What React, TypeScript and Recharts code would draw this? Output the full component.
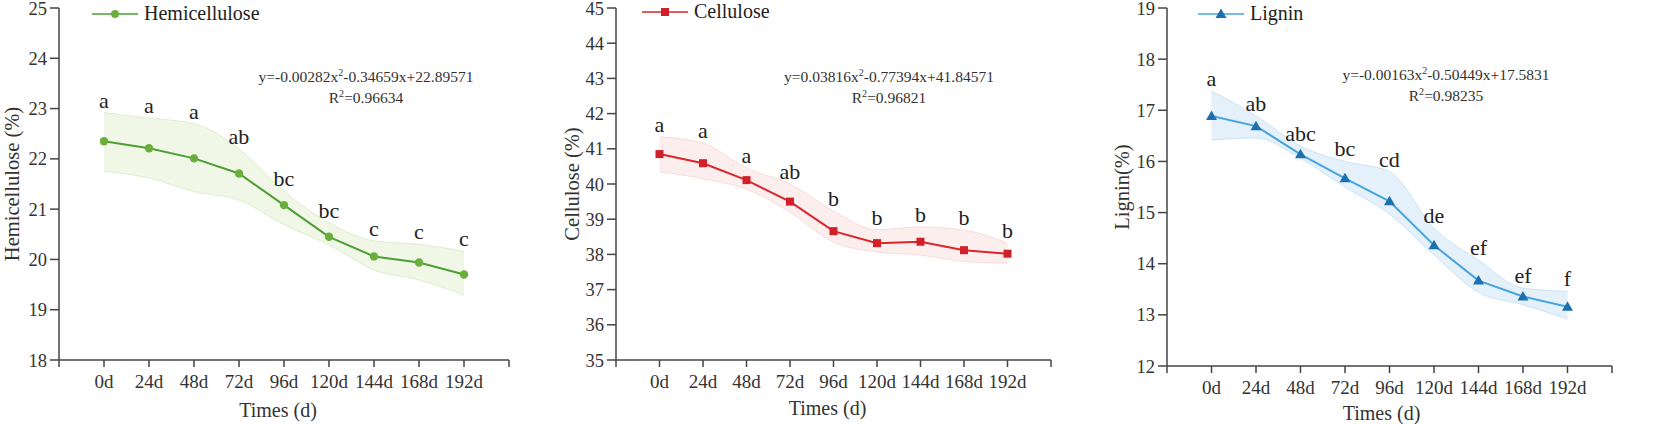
import { ComposedChart, Line, Area, XAxis, YAxis, LabelList } from 'recharts';

const FONT = "'Liberation Serif', 'Times New Roman', serif";

const times = [0, 24, 48, 72, 96, 120, 144, 168, 192];
const xTicks = [-24, 0, 24, 48, 72, 96, 120, 144, 168, 192, 216];

const hemiMean = [22.35, 22.21, 22.01, 21.71, 21.08, 20.45, 20.06, 19.94, 19.7];
const hemiUpper = [22.92, 22.81, 22.7, 22.2, 21.36, 20.73, 20.37, 20.3, 20.16];
const hemiLower = [21.75, 21.62, 21.35, 21.18, 20.69, 20.29, 19.79, 19.59, 19.29];
const hemiSig = ['a', 'a', 'a', 'ab', 'bc', 'bc', 'c', 'c', 'c'];

const celMean = [40.85, 40.59, 40.11, 39.5, 38.66, 38.32, 38.36, 38.12, 38.02];
const celUpper = [41.34, 41.16, 40.45, 40.0, 39.23, 38.7, 38.78, 38.69, 38.32];
const celLower = [40.35, 40.15, 39.85, 39.2, 38.35, 38.07, 37.98, 37.8, 37.75];
const celSig = ['a', 'a', 'a', 'ab', 'b', 'b', 'b', 'b', 'b'];

const ligMean = [16.89, 16.69, 16.14, 15.67, 15.22, 14.36, 13.67, 13.36, 13.16];
const ligUpper = [17.38, 16.89, 16.3, 16.0, 15.8, 14.69, 14.07, 13.52, 13.46];
const ligLower = [16.42, 16.46, 16.06, 15.5, 14.97, 14.17, 13.44, 13.2, 12.92];
const ligSig = ['a', 'ab', 'abc', 'bc', 'cd', 'de', 'ef', 'ef', 'f'];

const build = (mean: number[], lo: number[], hi: number[], sig: string[]) =>
  times.map((t, i) => ({ t, mean: mean[i], range: [lo[i], hi[i]], hi: hi[i], sig: sig[i] }));

const circleDot = (color: string) => (p: any) =>
  p.cx == null ? null : <circle key={p.index} cx={p.cx} cy={p.cy} r={4.2} fill={color} />;
const squareDot = (color: string) => (p: any) =>
  p.cx == null ? null : <rect key={p.index} x={p.cx - 4} y={p.cy - 4} width={8} height={8} fill={color} />;
const triDot = (color: string) => (p: any) =>
  p.cx == null ? null : (
    <polygon key={p.index} points={`${p.cx},${p.cy - 5.5} ${p.cx - 5.5},${p.cy + 4} ${p.cx + 5.5},${p.cy + 4}`} fill={color} />
  );

function LegendMark({ shape, color, lineColor }: any) {
  return (
    <svg width={46} height={12} style={{ overflow: 'visible' }}>
      <line x1={0} y1={6} x2={46} y2={6} stroke={lineColor} strokeWidth={1.5} />
      {shape === 'circle' && <circle cx={23} cy={6} r={4} fill={color} />}
      {shape === 'square' && <rect x={19} y={2} width={8} height={8} fill={color} />}
      {shape === 'tri' && <polygon points="23,0.5 17.5,10 28.5,10" fill={color} />}
    </svg>
  );
}

function Panel(props: any) {
  const {
    data, left, width, yw, mr, xh, domain, yTicks, yLabel, yLabelX, xLabelDx, xLabelDy,
    lineColor, markColor, bandFill, bandStroke, dot, shape, name, legLeft, legTop,
    eq1, eq2, eqX, eqY,
  } = props;
  return (
    <div style={{ position: 'absolute', left, top: 0, width, height: 424, fontFamily: FONT }}>
      <ComposedChart width={width} height={424} data={data} margin={{ top: 8, right: mr, left: 0, bottom: 0 }}
        style={{ fontFamily: FONT }}>
        <XAxis
          dataKey="t"
          type="number"
          domain={[-24, 216]}
          ticks={xTicks}
          interval={0}
          height={xh}
          tickFormatter={(v: number) => (v < 0 || v > 192 ? '' : `${v}d`)}
          tickSize={7}
          tickMargin={8}
          axisLine={{ stroke: '#444', strokeWidth: 1.5 }}
          tickLine={{ stroke: '#444', strokeWidth: 1.5 }}
          tick={{ fill: '#333', fontSize: 19, fontFamily: FONT }}
          label={{
            content: (lp: any) => {
              const vb = lp.viewBox || {};
              return (
                <text x={vb.x + vb.width / 2 + xLabelDx} y={vb.y + xLabelDy} textAnchor="middle"
                  fill="#333" fontSize={20} style={{ fontFamily: FONT }}>Times (d)</text>
              );
            },
          }}
        />
        <YAxis
          type="number"
          domain={domain}
          ticks={yTicks}
          interval={0}
          width={yw}
          tickSize={9}
          tickMargin={3}
          axisLine={{ stroke: '#444', strokeWidth: 1.5 }}
          tickLine={{ stroke: '#444', strokeWidth: 1.5 }}
          tick={{ fill: '#333', fontSize: 18.5, fontFamily: FONT }}
          label={{
            content: (lp: any) => {
              const vb = lp.viewBox || {};
              const cy = vb.y + vb.height / 2;
              return (
                <text x={yLabelX} y={cy} transform={`rotate(-90, ${yLabelX}, ${cy})`} textAnchor="middle"
                  dominantBaseline="central" fill="#333" fontSize={20.5} style={{ fontFamily: FONT }}>{yLabel}</text>
              );
            },
          }}
        />
        <Area dataKey="range" type="monotone" fill={bandFill} fillOpacity={1} stroke={bandStroke}
          strokeWidth={1} dot={false} activeDot={false} isAnimationActive={false} />
        <Line dataKey="mean" type="linear" stroke={lineColor} strokeWidth={2} dot={dot(markColor)}
          activeDot={false} isAnimationActive={false} />
        <Line dataKey="hi" type="linear" stroke="none" dot={false} activeDot={false} isAnimationActive={false}>
          <LabelList dataKey="sig" position="top" offset={5} fill="#222" fontSize={22} fontFamily={FONT} />
        </Line>
      </ComposedChart>
      <div style={{ position: 'absolute', left: legLeft, top: legTop, display: 'flex', alignItems: 'center',
        fontSize: 20, color: '#222', whiteSpace: 'nowrap' }}>
        <LegendMark shape={shape} color={markColor} lineColor={lineColor} />
        <span style={{ marginLeft: 6 }}>{name}</span>
      </div>
      <div style={{ position: 'absolute', left: eqX - 160, top: eqY, width: 320, textAlign: 'center',
        fontSize: 15.5, lineHeight: '21px', color: '#333', whiteSpace: 'nowrap' }}>
        <div>{eq1[0]}<sup style={{ fontSize: '0.65em', lineHeight: 0 }}>2</sup>{eq1[1]}</div>
        <div>R<sup style={{ fontSize: '0.65em', lineHeight: 0 }}>2</sup>{eq2}</div>
      </div>
    </div>
  );
}

export default function App() {
  return (
    <div style={{ position: 'absolute', left: 0, top: 0, width: 1655, height: 424, background: '#fff' }}>
      <Panel
        data={build(hemiMean, hemiLower, hemiUpper, hemiSig)}
        left={0} width={550} yw={59} mr={41} xh={64}
        domain={[18, 25]} yTicks={[18, 19, 20, 21, 22, 23, 24, 25]}
        yLabel="Hemicellulose (%)" yLabelX={12} xLabelDx={-6} xLabelDy={57}
        lineColor="#4e9e36" markColor="#6aae3e" bandFill="#f1f7e7" bandStroke="#e2edcf"
        dot={circleDot} shape="circle" name="Hemicellulose" legLeft={92} legTop={2}
        eq1={['y=-0.00282x', '-0.34659x+22.89571']} eq2="=0.96634" eqX={366} eqY={66}
      />
      <Panel
        data={build(celMean, celLower, celUpper, celSig)}
        left={530} width={560} yw={86} mr={39} xh={64}
        domain={[35, 45]} yTicks={[35, 36, 37, 38, 39, 40, 41, 42, 43, 44, 45]}
        yLabel="Cellulose (%)" yLabelX={42} xLabelDx={-6} xLabelDy={55}
        lineColor="#d8262c" markColor="#d0212a" bandFill="#fdeeee" bandStroke="#f9dcdc"
        dot={squareDot} shape="square" name="Cellulose" legLeft={112} legTop={0}
        eq1={['y=0.03816x', '-0.77394x+41.84571']} eq2="=0.96821" eqX={359} eqY={66}
      />
      <Panel
        data={build(ligMean, ligLower, ligUpper, ligSig)}
        left={1090} width={565} yw={77} mr={43} xh={58}
        domain={[12, 19]} yTicks={[12, 13, 14, 15, 16, 17, 18, 19]}
        yLabel="Lignin(%)" yLabelX={32} xLabelDx={-8} xLabelDy={54}
        lineColor="#48a4dd" markColor="#1d70b0" bandFill="#e4f1fb" bandStroke="#cde3f4"
        dot={triDot} shape="tri" name="Lignin" legLeft={108} legTop={2}
        eq1={['y=-0.00163x', '-0.50449x+17.5831']} eq2="=0.98235" eqX={356} eqY={64}
      />
    </div>
  );
}
